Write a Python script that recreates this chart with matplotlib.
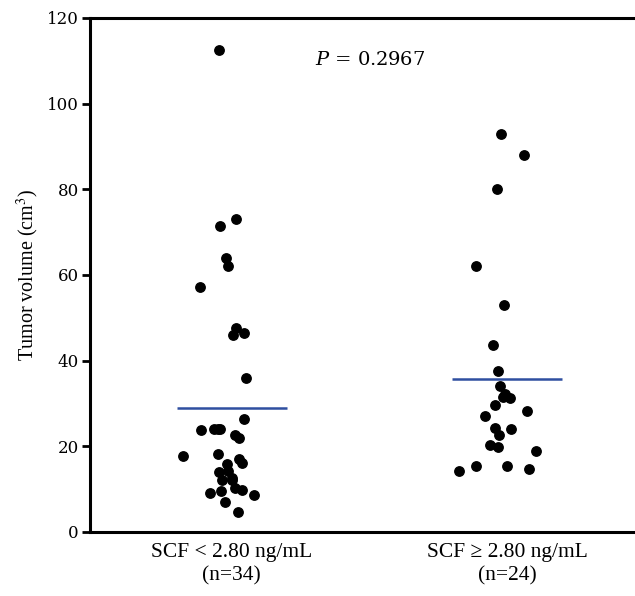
import matplotlib
matplotlib.use("Agg")
import matplotlib.pyplot as plt

plt.rcParams['font.family'] = ['Liberation Serif', 'DejaVu Serif']
plt.rcParams['mathtext.fontset'] = 'stix'

# group labels
groups = ["SCF < 2.80 ng/mL\n(n=34)", "SCF \u2265 2.80 ng/mL\n(n=24)"]

# tumor volumes
low_vals = [112.5, 73.1, 71.5, 64.0, 62.1, 57.3, 47.7, 46.0, 46.5, 36.0, 26.3,
            23.7, 24.1, 24.1, 22.6, 21.9, 17.8, 18.1, 17.0, 16.0, 15.9, 14.1,
            14.2, 12.1, 12.1, 10.2, 9.8, 9.6, 9.2, 8.6, 7.1, 4.6, 24.0, 12.5]
low_jitter = [-0.045, 0.016, -0.041, -0.021, -0.012, -0.115, 0.016, 0.006, 0.044,
              0.052, 0.045, -0.113, -0.064, -0.043, 0.013, 0.028, -0.178, -0.049,
              0.028, 0.036, -0.016, -0.047, -0.012, -0.036, 0.002, 0.012, 0.037,
              -0.038, -0.078, 0.082, -0.025, 0.023, -0.05, 0.0]

high_vals = [92.9, 88.1, 80.1, 62.1, 53.0, 43.6, 37.6, 34.1, 32.1, 31.3, 31.4,
             29.7, 28.3, 27.0, 24.2, 24.1, 22.7, 20.3, 19.8, 18.8, 15.4, 15.5,
             14.3, 14.6]
high_jitter = [-0.023, 0.062, -0.037, -0.112, -0.011, -0.052, -0.032, -0.025,
               -0.006, 0.012, -0.015, -0.044, 0.074, -0.080, -0.044, 0.016,
               -0.028, -0.062, -0.034, 0.104, -0.114, 0.0, -0.175, 0.081]

means = [29.0, 35.8]

fig = plt.figure(figsize=(6.35, 5.96), dpi=100)
ax = fig.add_axes([0.1417, 0.1074, 0.8583, 0.8624])

ax.scatter([1 + j for j in low_jitter], low_vals, s=46, color='black', zorder=3)
ax.scatter([2 + j for j in high_jitter], high_vals, s=46, color='black', zorder=3)

for i, m in enumerate(means):
    ax.hlines(m, i + 1 - 0.2, i + 1 + 0.2, color='#2f4fa0', linewidth=1.8, zorder=2)

ax.set_xlim(0.485, 2.465)
ax.set_ylim(0, 120)
ax.set_yticks([0, 20, 40, 60, 80, 100, 120])
ax.set_yticklabels(["0", "20", "40", "60", "80", "100", "120"],
                   family='DejaVu Serif', fontsize=12)
ax.set_xticks([1, 2])
ax.set_xticklabels(groups, fontsize=15.5, linespacing=1.3)
ax.tick_params(axis='x', length=0, pad=8)
ax.tick_params(axis='y', length=6, width=2, pad=2, colors='black')

for s in ['left', 'bottom', 'top']:
    ax.spines[s].set_linewidth(2.2)
ax.spines['right'].set_visible(False)

ax.set_ylabel("Tumor volume (cm$^3$)", fontsize=14.5, labelpad=4)

ax.text(1.503, 110.2, "$P$ = 0.2967", fontsize=14, ha='center', va='center',
        family='DejaVu Serif', math_fontfamily='dejavuserif')

fig.savefig("out.png", dpi=100)
